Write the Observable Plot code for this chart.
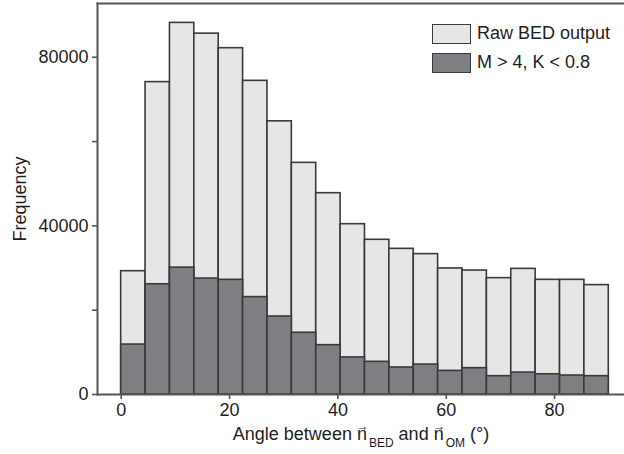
<!DOCTYPE html>
<html><head><meta charset="utf-8">
<script src="https://cdn.jsdelivr.net/npm/d3@7"></script>
<script src="https://cdn.jsdelivr.net/npm/@observablehq/plot@0.6"></script>
<style>
body{margin:0;background:#fff;}
#chart{position:relative;width:624px;height:454px;font-family:"Liberation Sans",Arial,sans-serif;}
#legend{position:absolute;left:432px;top:19px;font-size:18px;color:#1e1e1e;}
#legend .item{display:flex;align-items:center;height:29px;}
#legend .sw{box-sizing:border-box;width:39px;height:20px;border:1.6px solid #3a3a3a;margin-right:6px;}
</style></head><body>
<div id="chart"></div>
<script>
// Histogram bins (degrees)
const binStart = [0,4.5,9,13.5,18,22.5,27,31.5,36,40.5,45,49.5,54,58.5,63,67.5,72,76.5,81,85.5];
const binEnd   = [4.5,9,13.5,18,22.5,27,31.5,36,40.5,45,49.5,54,58.5,63,67.5,72,76.5,81,85.5,90];
// Counts per bin
const rawCounts = [29250,74100,88150,85600,82150,74400,64800,54950,47750,40400,36700,34550,33300,29900,29400,27600,29800,27200,27200,25950];
const filteredCounts = [11850,26150,30100,27500,27200,23100,18500,14650,11700,8800,7750,6400,7100,5600,6250,4350,5200,4800,4500,4350];
// Axes
const xTicks = [0,20,40,60,80];
const yTicks = [0,20000,40000,60000,80000];
const yTickLabels = ["0","","40000","","80000"];
// Series
const seriesNames = ["Raw BED output","M > 4, K < 0.8"];
const seriesColors = ["#e6e6e6","#7e7f83"];
const outline = "#3a3a3a";
const axisColor = "#555555";

const rawData = binStart.map((s,i)=>({x1:s,x2:binEnd[i],y:rawCounts[i]}));
const filtData = binStart.map((s,i)=>({x1:s,x2:binEnd[i],y:filteredCounts[i]}));

const plot = Plot.plot({
  width: 624,
  height: 454,
  marginLeft: 97,
  marginRight: 0,
  marginTop: 3,
  marginBottom: 60,
  style: {fontFamily: '"Liberation Sans", Arial, sans-serif', fontSize: "18px", color: "#1e1e1e", background: "#fff"},
  x: {domain: [-4.37, 92.9]},
  y: {domain: [0, 92750]},
  marks: [
    Plot.rectY(rawData, {x1:"x1", x2:"x2", y:"y", fill: seriesColors[0], stroke: outline, strokeWidth: 1.6, inset: 0}),
    Plot.rectY(filtData, {x1:"x1", x2:"x2", y:"y", fill: seriesColors[1], stroke: outline, strokeWidth: 1.6, inset: 0}),
    Plot.axisX({ticks: xTicks, tickSize: 5, tickPadding: 4, stroke: axisColor, strokeWidth: 1.6, fontSize: 18,
      label: "XLABEL", labelAnchor: "center", labelArrow: "none", labelOffset: 45}),
    Plot.axisY({ticks: yTicks, tickSize: 5, tickPadding: 4, stroke: axisColor, strokeWidth: 1.6, fontSize: 18,
      tickFormat: (d)=>yTickLabels[yTicks.indexOf(d)], label: "Frequency", labelAnchor: "center", labelArrow: "none", labelOffset: 84}),
    Plot.frame({anchor: "left", stroke: axisColor, strokeWidth: 2}),
    Plot.frame({anchor: "top", stroke: axisColor, strokeWidth: 2}),
    Plot.frame({anchor: "bottom", stroke: axisColor, strokeWidth: 2})
  ]
});

// Rich x-axis label: vector arrows over n and subscripts
plot.querySelectorAll("text").forEach(t => {
  if (t.textContent === "XLABEL") {
    t.textContent = "";
    const parts = [
      ["Angle between n", 0, 0, null],
      ["\u2192", -10.5, -10, "12px"],
      ["BED", 0.5, 17, "12px"],
      [" and n", 0, -7, null],
      ["\u2192", -10.5, -10, "12px"],
      ["OM", 0.5, 17, "12px"],
      [" (°)", 0, -7, null]
    ];
    parts.forEach(([txt,dx,dy,fs]) => {
      const ts = document.createElementNS("http://www.w3.org/2000/svg","tspan");
      ts.textContent = txt;
      if (dx) ts.setAttribute("dx", dx);
      if (dy) ts.setAttribute("dy", dy);
      if (fs) ts.setAttribute("font-size", fs);
      t.appendChild(ts);
    });
  }
});

const chart = document.getElementById("chart");
chart.appendChild(plot);
const legend = document.createElement("div");
legend.id = "legend";
seriesNames.forEach((n,i)=>{
  const it = document.createElement("div"); it.className = "item";
  const sw = document.createElement("div"); sw.className = "sw"; sw.style.background = seriesColors[i];
  const lb = document.createElement("span"); lb.textContent = n;
  it.appendChild(sw); it.appendChild(lb); legend.appendChild(it);
});
chart.appendChild(legend);
</script>
</body></html>
